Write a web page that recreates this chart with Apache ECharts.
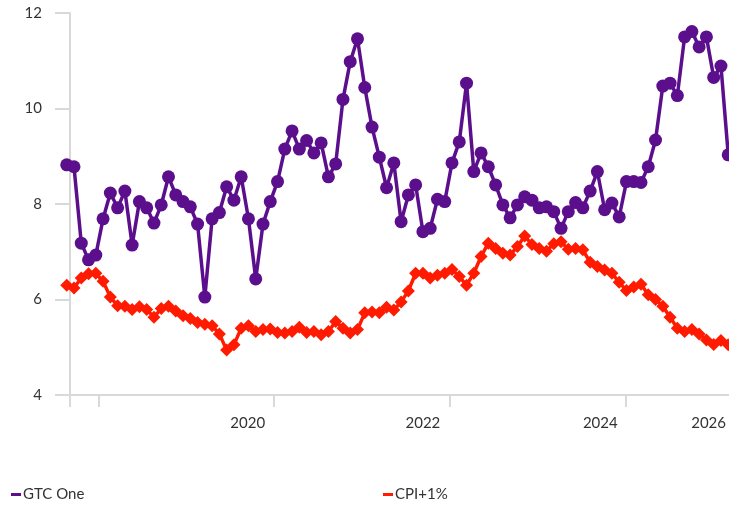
<!DOCTYPE html>
<html>
<head>
<meta charset="utf-8">
<title>GTC One vs CPI+1%</title>
<script src="https://cdn.jsdelivr.net/npm/echarts@6/dist/echarts.min.js"></script>
<style>
  html, body { margin: 0; padding: 0; background: #fff; }
  #chart { width: 729px; height: 506px; }
</style>
</head>
<body>
<div id="chart"></div>
<script>
// monthly readings, index 0 = first month shown
var gtcOne = [8.82, 8.78, 7.18, 6.83, 6.93, 7.69, 8.23, 7.92, 8.27, 7.14,
  8.05, 7.92, 7.60, 7.98, 8.57, 8.19, 8.05, 7.94, 7.58, 6.05,
  7.69, 7.82, 8.36, 8.08, 8.57, 7.69, 6.43, 7.58, 8.05, 8.47,
  9.15, 9.53, 9.15, 9.33, 9.07, 9.28, 8.57, 8.84, 10.19, 10.98,
  11.46, 10.44, 9.61, 8.98, 8.34, 8.86, 7.63, 8.19, 8.40, 7.42,
  7.49, 8.10, 8.05, 8.86, 9.30, 10.53, 8.68, 9.07, 8.78, 8.40,
  7.98, 7.71, 7.98, 8.15, 8.08, 7.92, 7.94, 7.84, 7.49, 7.84,
  8.03, 7.92, 8.27, 8.68, 7.88, 8.02, 7.73, 8.47, 8.47, 8.45,
  8.78, 9.34, 10.47, 10.53, 10.27, 11.50, 11.61, 11.29, 11.50, 10.65,
  10.89, 9.03];

var cpiPlus1 = [6.30, 6.24, 6.45, 6.54, 6.55, 6.38, 6.05, 5.87, 5.86, 5.79,
  5.85, 5.79, 5.63, 5.81, 5.86, 5.76, 5.66, 5.60, 5.52, 5.48,
  5.45, 5.28, 4.94, 5.05, 5.40, 5.45, 5.33, 5.37, 5.38, 5.31,
  5.30, 5.33, 5.42, 5.31, 5.33, 5.26, 5.33, 5.54, 5.40, 5.30,
  5.37, 5.72, 5.74, 5.72, 5.84, 5.78, 5.95, 6.18, 6.55, 6.55,
  6.45, 6.51, 6.55, 6.63, 6.48, 6.30, 6.55, 6.90, 7.18, 7.07,
  6.97, 6.93, 7.11, 7.33, 7.15, 7.07, 7.01, 7.17, 7.21, 7.05,
  7.07, 7.04, 6.78, 6.69, 6.62, 6.55, 6.36, 6.19, 6.26, 6.32,
  6.10, 6.00, 5.86, 5.63, 5.40, 5.33, 5.37, 5.28, 5.15, 5.06,
  5.14, 5.05];

// x-axis marks, in month-index units
var tickAt = [0.45, 4.4, 28.5, 52.7, 76.9];
var yearLabels = ['2020', '2022', '2024', '2026'];
var yearLabelAt = [24.9, 49.0, 73.4, 88.3];

function pairs(vals) {
  return vals.map(function (v, i) { return [i, v]; });
}

var axisGrey = '#d9d9d9';
var font = 'Lato, "Open Sans", sans-serif';

var option = {
  animation: false,
  backgroundColor: '#fff',
  textStyle: { fontFamily: font },
  grid: { left: 70, right: 0, top: 13, bottom: 111 },
  legend: [{
    data: ['GTC One'],
    left: 6, top: 482,
    icon: 'rect', itemWidth: 10, itemHeight: 3,
    textStyle: { fontFamily: font, fontSize: 15, color: '#333', padding: [0, 0, 0, -3] }
  }, {
    data: ['CPI+1%'],
    left: 378, top: 482,
    icon: 'rect', itemWidth: 10, itemHeight: 3,
    textStyle: { fontFamily: font, fontSize: 15, color: '#333', padding: [0, 0, 0, -3] }
  }],
  xAxis: {
    type: 'value',
    min: 0.45,
    max: 91.1,
    splitLine: { show: false },
    axisLine: { show: true, lineStyle: { color: axisGrey, width: 2 } },
    axisTick: {
      show: true, length: 12, customValues: tickAt,
      lineStyle: { color: axisGrey, width: 2 }
    },
    axisLabel: {
      customValues: yearLabelAt,
      margin: 21,
      fontSize: 15,
      color: '#333',
      fontFamily: font,
      formatter: function (v) {
        var k = yearLabelAt.indexOf(v);
        return k >= 0 ? yearLabels[k] : '';
      }
    }
  },
  yAxis: {
    type: 'value',
    min: 4, max: 12, interval: 2,
    splitLine: { show: false },
    axisLine: { show: true, lineStyle: { color: axisGrey, width: 2 } },
    axisTick: { show: true, length: 15, lineStyle: { color: axisGrey, width: 2 } },
    axisLabel: { margin: 28, fontSize: 15, color: '#333', fontFamily: font }
  },
  series: [{
    name: 'GTC One',
    type: 'line',
    data: pairs(gtcOne),
    clip: false,
    symbol: 'circle',
    symbolSize: 13,
    showAllSymbol: true,
    color: '#5b0f8c',
    lineStyle: { width: 3.5, color: '#5b0f8c' },
    itemStyle: { color: '#5b0f8c' }
  }, {
    name: 'CPI+1%',
    type: 'line',
    data: pairs(cpiPlus1),
    clip: false,
    symbol: 'diamond',
    symbolSize: 13,
    showAllSymbol: true,
    color: '#ff1a00',
    lineStyle: { width: 3.5, color: '#ff1a00' },
    itemStyle: { color: '#ff1a00' }
  }]
};

var chart = echarts.init(document.getElementById('chart'));
chart.setOption(option);
</script>
</body>
</html>
